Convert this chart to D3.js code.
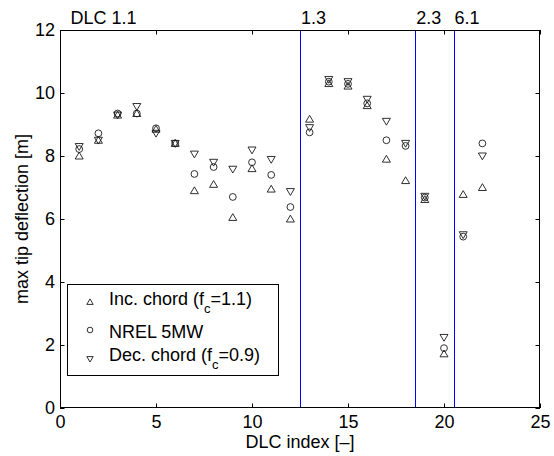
<!DOCTYPE html>
<html>
<head>
<meta charset="utf-8">
<script src="https://cdn.jsdelivr.net/npm/d3@7"></script>
<style>
  body { margin: 0; background: #fff; }
  svg { font-family: "Liberation Sans", Arial, sans-serif; }
</style>
</head>
<body>
<svg id="chart" width="554" height="456"></svg>
<script>
// DLC index on x, max tip deflection on y
const dlcIndex = [1, 2, 3, 4, 5, 6, 7, 8, 9, 10, 11, 12, 13, 14, 15, 16, 17, 18, 19, 20, 21, 22];
const incChord = [8.0, 8.5, 9.3, 9.35, 8.85, 8.4, 6.9, 7.1, 6.05, 7.6, 6.95, 6.0, 9.17, 10.3, 10.22, 9.6, 7.9, 7.22, 6.62, 1.72, 6.78, 7.0];
const nrel5mw = [8.22, 8.72, 9.35, 9.35, 8.88, 8.4, 7.43, 7.65, 6.7, 7.8, 7.4, 6.38, 8.75, 10.36, 10.29, 9.67, 8.5, 8.32, 6.68, 1.9, 5.44, 8.4];
const decChord = [8.3, 8.5, 9.3, 9.57, 8.72, 8.4, 8.06, 7.8, 7.58, 8.19, 7.89, 6.87, 8.9, 10.43, 10.36, 9.8, 9.1, 8.4, 6.72, 2.24, 5.5, 8.0];

const dlcLines = [12.5, 18.5, 20.5];
const dlcLabels = [
  { x: 0.5, text: "DLC 1.1" },
  { x: 12.5, text: "1.3" },
  { x: 18.5, text: "2.3" },
  { x: 20.5, text: "6.1" }
];
const xTicks = [0, 5, 10, 15, 20, 25];
const yTicks = [0, 2, 4, 6, 8, 10, 12];

const MARGIN = { top: 30, right: 14, bottom: 48, left: 60 };
const width = 554 - MARGIN.left - MARGIN.right;
const height = 456 - MARGIN.top - MARGIN.bottom;

const svg = d3.select("#chart");
const g = svg.append("g")
  .attr("transform", "translate(" + MARGIN.left + "," + MARGIN.top + ")");

let x = d3.scaleLinear().domain([0, 25]).range([0, width]);
let y = d3.scaleLinear().domain([0, 12]).range([height, 0]);
const crisp = v => Math.round(v) + 0.5;

// marker shapes (matlab style ^ o v)
function triUp(s) {
  return "M0," + (-s * 0.95) + "L" + s + "," + (s * 0.75) + "L" + (-s) + "," + (s * 0.75) + "Z";
}
function triDown(s) {
  return "M0," + (s * 0.95) + "L" + s + "," + (-s * 0.75) + "L" + (-s) + "," + (-s * 0.75) + "Z";
}

// vertical DLC separators
g.selectAll(".dlc-line")
  .data(dlcLines)
  .join("line")
  .attr("x1", d => crisp(x(d))).attr("x2", d => crisp(x(d)))
  .attr("y1", 0).attr("y2", height)
  .attr("stroke", "#0000ff")
  .attr("stroke-width", 1)
  .attr("shape-rendering", "crispEdges");

// axes, ticks inward on all sides
const fontSize = 18;
g.append("g")
  .attr("transform", "translate(0," + height + ")")
  .call(d3.axisBottom(x).tickValues(xTicks).tickSize(-4.5).tickPadding(7))
  .call(a => a.select(".domain").remove());
g.append("g")
  .call(d3.axisTop(x).tickValues(xTicks).tickSize(-4.5).tickFormat(""))
  .call(a => a.select(".domain").remove());
g.append("g")
  .call(d3.axisLeft(y).tickValues(yTicks).tickSize(-4.5).tickPadding(5))
  .call(a => a.select(".domain").remove());
g.append("g")
  .attr("transform", "translate(" + width + ",0)")
  .call(d3.axisRight(y).tickValues(yTicks).tickSize(-4.5).tickFormat(""))
  .call(a => a.select(".domain").remove());

g.selectAll(".tick line").attr("stroke", "#000");
g.selectAll(".tick text")
  .attr("fill", "#000")
  .style("font-size", fontSize + "px")
  .style("font-family", "Liberation Sans, Arial, sans-serif");

g.append("rect")
  .attr("x", 0.5).attr("y", 0.5)
  .attr("width", width - 1).attr("height", height - 1)
  .attr("fill", "none").attr("stroke", "#000").attr("stroke-width", 1)
  .attr("shape-rendering", "crispEdges");

// DLC group labels above plot
g.selectAll(".dlc-label")
  .data(dlcLabels)
  .join("text")
  .attr("x", d => x(d.x) + 1)
  .attr("y", -6)
  .style("font-size", fontSize + "px")
  .text(d => d.text);

// markers
const markerColor = "#1a1a1a";
const series = [
  { values: incChord, shape: "up" },
  { values: nrel5mw, shape: "circle" },
  { values: decChord, shape: "down" }
];
series.forEach(function(s) {
  const pts = dlcIndex.map((d, i) => [d, s.values[i]]);
  if (s.shape === "circle") {
    g.selectAll(null).data(pts).join("circle")
      .attr("cx", d => x(d[0])).attr("cy", d => y(d[1]))
      .attr("r", 3.4)
      .attr("fill", "none").attr("stroke", markerColor).attr("stroke-width", 0.9);
  } else {
    g.selectAll(null).data(pts).join("path")
      .attr("transform", d => "translate(" + x(d[0]) + "," + y(d[1]) + ")")
      .attr("d", s.shape === "up" ? triUp(4) : triDown(4))
      .attr("fill", "none").attr("stroke", markerColor).attr("stroke-width", 0.9);
  }
});

// axis labels
svg.append("text")
  .attr("x", MARGIN.left + width / 2)
  .attr("y", 448)
  .attr("text-anchor", "middle")
  .style("font-size", fontSize + "px")
  .text("DLC index [\u2013]");
svg.append("text")
  .attr("transform", "translate(28," + (MARGIN.top + height / 2) + ") rotate(-90)")
  .attr("text-anchor", "middle")
  .style("font-size", fontSize + "px")
  .text("max tip deflection [m]");

// legend
const legend = svg.append("g");
legend.append("rect")
  .attr("x", 67.5).attr("y", 284.5)
  .attr("width", 211).attr("height", 91)
  .attr("fill", "#fff").attr("stroke", "#000").attr("stroke-width", 1);

const legendRows = [
  { shape: "up", y: 305, my: 302, label: "Inc. chord (f", sub: "c", tail: "=1.1)" },
  { shape: "circle", y: 338, my: 330, label: "NREL 5MW" },
  { shape: "down", y: 361, my: 359, label: "Dec. chord (f", sub: "c", tail: "=0.9)" }
];
legendRows.forEach(function(r) {
  if (r.shape === "circle") {
    legend.append("circle").attr("cx", 90).attr("cy", r.my).attr("r", 2.8)
      .attr("fill", "none").attr("stroke", markerColor).attr("stroke-width", 0.9);
  } else {
    legend.append("path").attr("transform", "translate(90," + r.my + ")")
      .attr("d", r.shape === "up" ? triUp(3.2) : triDown(3.2))
      .attr("fill", "none").attr("stroke", markerColor).attr("stroke-width", 0.9);
  }
  const t = legend.append("text")
    .attr("x", 109).attr("y", r.y)
    .style("font-size", fontSize + "px");
  t.append("tspan").text(r.label);
  if (r.sub) {
    t.append("tspan").attr("dy", 8).style("font-size", "13px").text(r.sub);
    t.append("tspan").attr("dy", -8).text(r.tail);
  }
});
</script>
</body>
</html>
